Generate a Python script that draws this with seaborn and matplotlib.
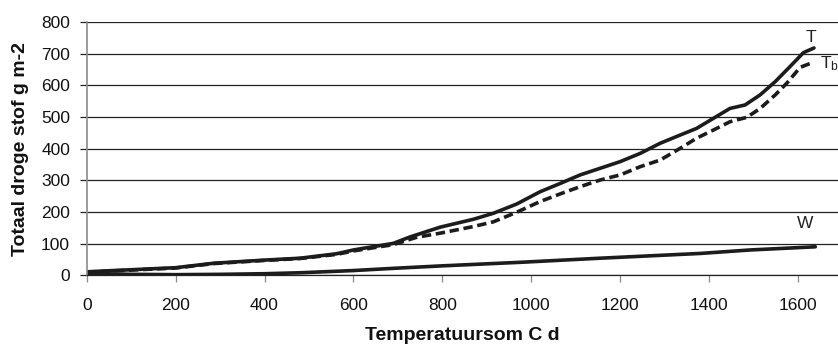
import matplotlib
matplotlib.use("Agg")
import matplotlib.pyplot as plt
import seaborn as sns
import pandas as pd

# ---- data ----
t_x = [0, 60, 200, 285, 400, 480, 562, 600, 690, 727, 795, 870, 915, 967, 1020,
       1065, 1110, 1155, 1200, 1245, 1290, 1335, 1372, 1410, 1447, 1481, 1515,
       1549, 1582, 1612, 1636]
t_y = [11, 15, 24, 38, 48, 54, 68, 80, 101, 121, 152, 177, 196, 225, 264,
       290, 317, 338, 359, 385, 417, 443, 464, 496, 527, 538, 570,
       612, 659, 703, 718]

tb_x = [0, 60, 200, 285, 400, 480, 562, 600, 690, 742, 795, 870, 915, 967, 1020,
        1065, 1110, 1155, 1200, 1245, 1290, 1335, 1372, 1410, 1447, 1485, 1515,
        1549, 1575, 1605, 1633]
tb_y = [10, 14, 23, 37, 47, 53, 66, 77, 97, 120, 133, 154, 169, 199, 233,
        257, 280, 301, 317, 343, 364, 401, 433, 459, 485, 499, 527,
        570, 607, 657, 672]

w_x = [0, 100, 200, 300, 400, 480, 600, 690, 802, 975, 1155, 1380, 1492, 1639]
w_y = [6, 3, 2, 3, 5, 8, 15, 22, 30, 41, 54, 69, 80, 90]

x_ticks = [0, 200, 400, 600, 800, 1000, 1200, 1400, 1600]
y_ticks = [0, 100, 200, 300, 400, 500, 600, 700, 800]

x_label = "Temperatuursom C d"
y_label = "Totaal droge stof g m-2"

df_t = pd.DataFrame({"x": t_x, "y": t_y})
df_tb = pd.DataFrame({"x": tb_x, "y": tb_y})
df_w = pd.DataFrame({"x": w_x, "y": w_y})

sns.set_style("white")
plt.rcParams["font.family"] = ["Liberation Sans", "DejaVu Sans"]

W, H = 838, 345
x0, y0, y1 = 86.7, 275.3, 22.0
fig = plt.figure(figsize=(W / 100, H / 100), dpi=100)
ax = fig.add_axes([x0 / W, 1 - y0 / H, 1 - x0 / W, (y0 - y1) / H])
aw, ah = W - x0, y0 - y1

lc = "#1c1c1c"
sns.lineplot(data=df_t, x="x", y="y", ax=ax, color=lc, lw=2.6, sort=False,
             estimator=None, solid_capstyle="round")
sns.lineplot(data=df_tb, x="x", y="y", ax=ax, color=lc, lw=2.6, sort=False,
             estimator=None)
ax.lines[-1].set_dashes([2.6, 1.3])
sns.lineplot(data=df_w, x="x", y="y", ax=ax, color=lc, lw=2.6, sort=False,
             estimator=None, solid_capstyle="round")

ax.set_xlim(0, 1690)
ax.set_ylim(0, 800)
ax.set_xticks(x_ticks)
ax.set_yticks(y_ticks)
ax.yaxis.grid(True, color="#222222", lw=0.9)
ax.xaxis.grid(False)
ax.set_axisbelow(True)

for s in ["top", "right"]:
    ax.spines[s].set_visible(False)
ax.spines["left"].set_color("#8a8a8a")
ax.spines["left"].set_linewidth(1.2)
ax.spines["bottom"].set_color("#222222")
ax.spines["bottom"].set_linewidth(0.9)

ax.tick_params(axis="y", direction="out", length=5, width=0.9, color="#222222",
               pad=7, labelsize=12.5, left=True, labelcolor="#111111")
ax.tick_params(axis="x", direction="out", length=5, width=0.9, color="#8a8a8a",
               pad=11, labelsize=12.5, bottom=True, labelcolor="#111111")

ax.set_xlabel(x_label, fontsize=14, fontweight="bold", color="#111111")
ax.set_ylabel(y_label, fontsize=14, fontweight="bold", color="#111111")
ax.xaxis.set_label_coords(0.5, -(327 - y0) / ah)
ax.yaxis.set_label_coords(-(x0 - 29) / aw, 0.5)

ax.text(1630, 752, "T", fontsize=12.5, ha="center", va="center", color="#222222")
ax.text(1650, 668, r"$\mathregular{T_b}$", fontsize=12.5, ha="left", va="center",
        color="#222222")
ax.text(1616, 165, "W", fontsize=12.5, ha="center", va="center", color="#222222")

fig.savefig("out.png", dpi=100)
